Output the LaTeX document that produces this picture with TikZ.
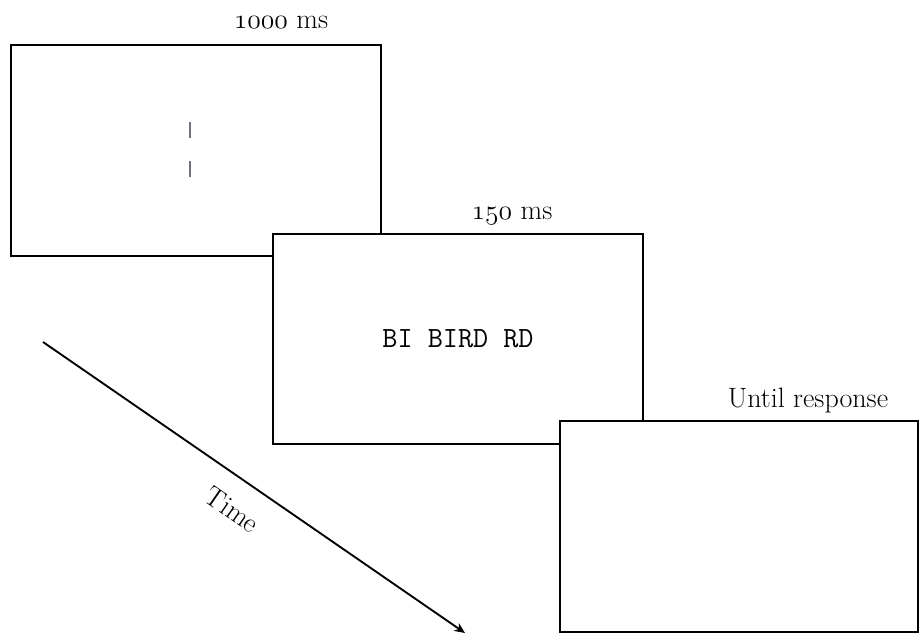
\documentclass[tikz,border=0pt]{standalone}
\usepackage{fontspec}
\usepackage{tikz}
\usetikzlibrary{arrows.meta}
\definecolor{fixgray}{HTML}{6F7380}
\newcommand\osdigits[1]{{\usefont{OML}{cmm}{m}{it}#1}}

\begin{document}
\begin{tikzpicture}[
    x=0.75pt, y=-0.75pt,
    frame/.style={draw=black, line width=1.5pt, fill=white, inner sep=0pt, minimum width=277.5pt, minimum height=158pt},
    dur/.style={font=\fontsize{21}{24}\selectfont, inner sep=0pt},
    stim/.style={font=\ttfamily\fontsize{22}{24}\selectfont, inner sep=0pt}
]
\useasboundingbox (0,0) rectangle (921,634);
% frames, later ones on top
\node[frame] (fixation) at (195.5,150.5) {};
\draw[fixgray, line width=1.1pt] (190,122) -- (190,138) (190,161) -- (190,177);
\node[frame] (target) at (458,339) {};
\node[stim] (word) at (target) {BI BIRD RD};
\node[frame, minimum width=268.5pt] (response) at (739,526.5) {};
% durations
\node[dur, anchor=base] (durFix) at (281,29) {\osdigits{1000} ms};
\node[dur, anchor=base] (durTarget) at (512,220) {\osdigits{150} ms};
\node[dur, anchor=base] (durResp) at (808,408) {Until response};
% time axis
\coordinate (timeStart) at (43,342);
\coordinate (timeEnd) at (465,633);
\draw[-{Stealth[length=8pt,width=7pt]}, line width=1.4pt] (timeStart) -- (timeEnd)
    node[pos=0.49, sloped, below=15pt, inner sep=0pt, font=\fontsize{21}{24}\selectfont] (timeLabel) {Time};
\end{tikzpicture}
\end{document}
